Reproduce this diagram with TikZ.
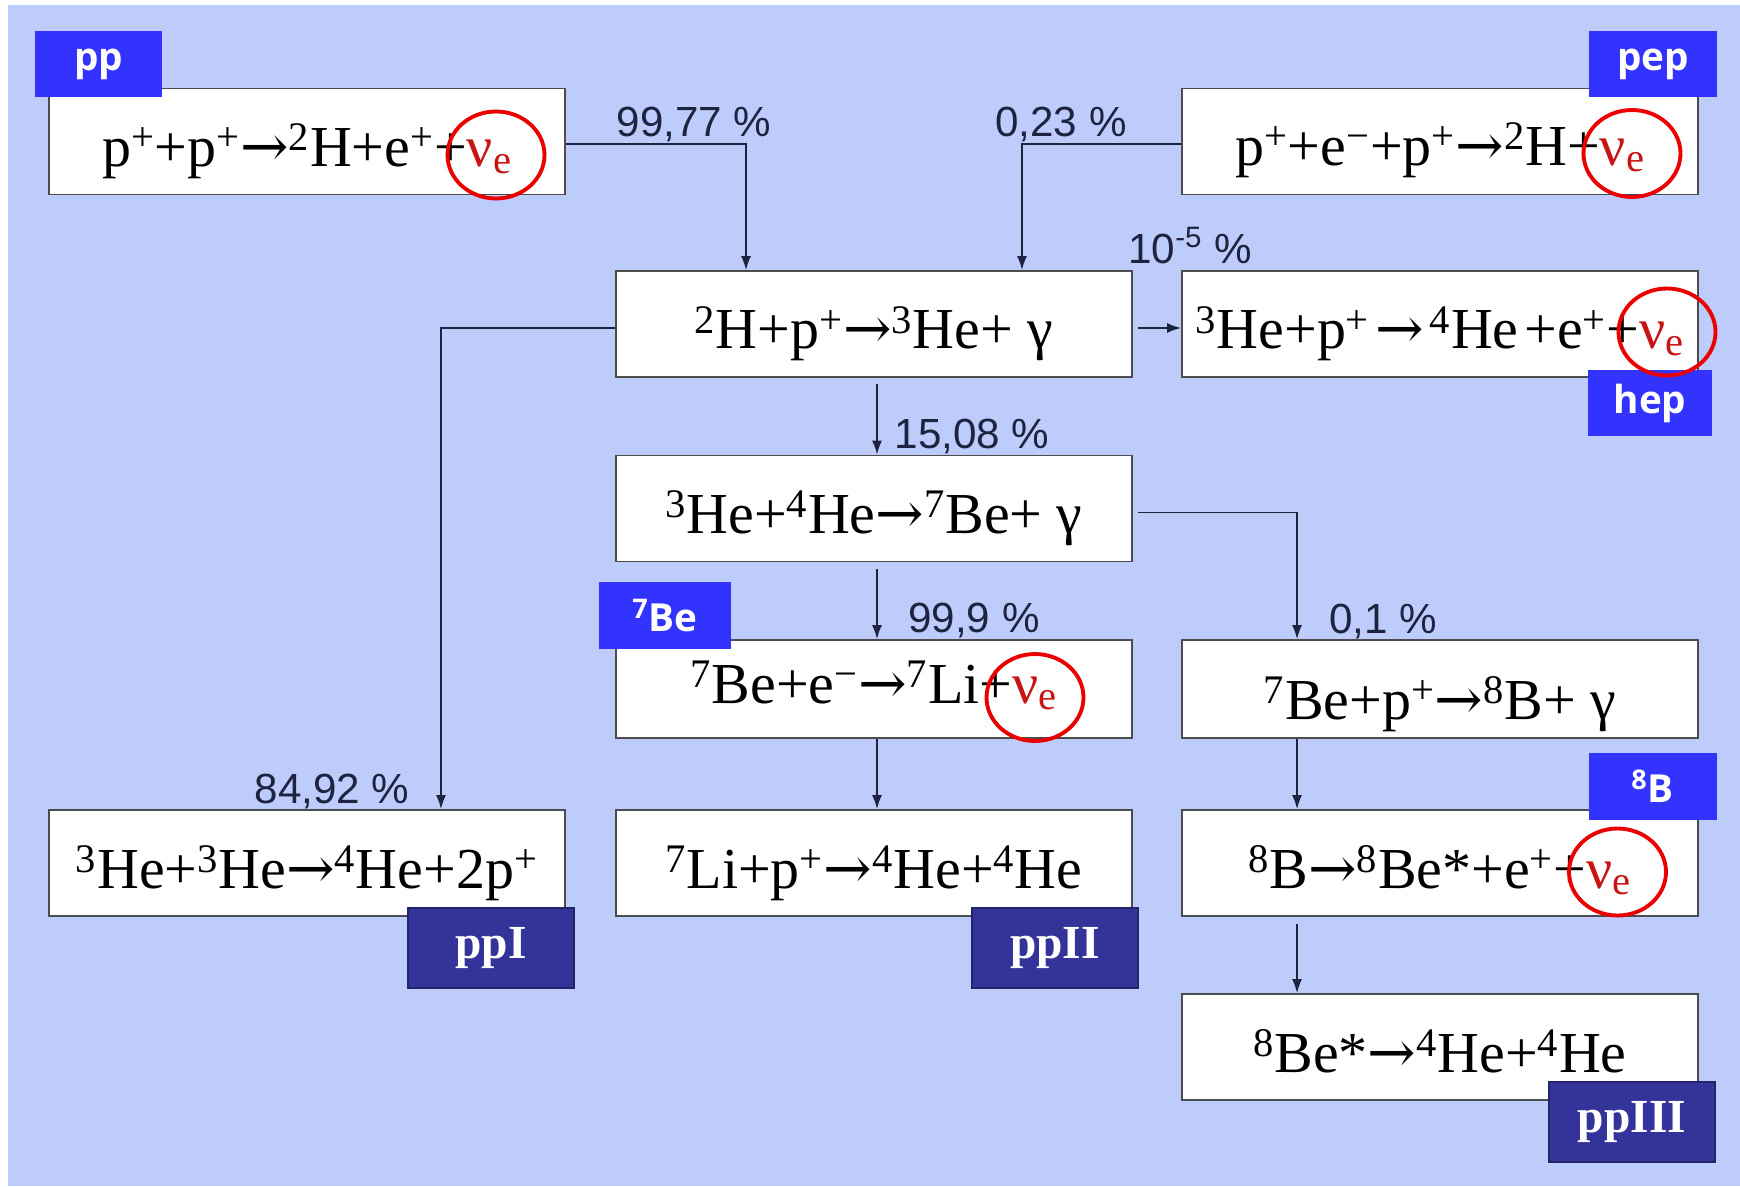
\documentclass[tikz,border=0pt]{standalone}
\usepackage{fontspec}
\setmainfont{Liberation Serif}
\newfontfamily\pctfont{Liberation Sans}
\newfontfamily\tagfont{Open Sans}
\newfontfamily\arrfont{DejaVu Serif}
\usetikzlibrary{shapes.geometric,arrows.meta}

\definecolor{slide}{RGB}{189,204,251}
\definecolor{tagblue}{RGB}{51,51,255}
\definecolor{chainblue}{RGB}{51,51,153}
\definecolor{nured}{RGB}{200,20,20}
\definecolor{ringred}{RGB}{235,0,0}
\definecolor{wire}{RGB}{30,36,64}

\newcommand{\up}[1]{\textsuperscript{#1}}
\newcommand{\nue}{{\color{nured}ν\textsubscript{e}}}
\newcommand{\ra}{{\arrfont →}}

\tikzset{
	reac/.style={draw=black!70, fill=white, line width=1pt, minimum width=10.32cm, minimum height=2.12cm, inner sep=0pt, text height=1.3cm, text depth=0.3cm, font=\fontsize{33}{40}\selectfont},
	taglbl/.style={fill=tagblue, text=white, minimum width=2.56cm, minimum height=1.32cm, inner sep=0pt, font=\tagfont\bfseries\fontsize{22}{26}\selectfont},
	chainlbl/.style={fill=chainblue, draw=chainblue!70!black, line width=1pt, text=white, minimum width=3.32cm, minimum height=1.6cm, inner sep=0pt, font=\bfseries\fontsize{27}{30}\selectfont},
	pct/.style={text=wire, inner sep=0pt, anchor=base, font=\pctfont\fontsize{24}{28}\selectfont},
	ringnu/.style={ellipse, draw=ringred, line width=2.2pt, minimum width=1.94cm, minimum height=1.74cm, inner sep=0pt},
	flowarr/.style={draw=wire, line width=1pt, -{Latex[length=0.28cm, width=0.2cm]}}
}

\begin{document}
\begin{tikzpicture}[x=0.02cm, y=-0.02cm]
\useasboundingbox (0,0) rectangle (1740,1186);
\fill[slide] (8,5) rectangle (1740,1186);

% Reacciones
\node[reac] (ppbox) at (307,141.5) {p\up{+}+p\up{+}\ra\up{2}H+e\up{+}+\nue};
\node[reac, text height=1.25cm] (pepbox) at (1440,141.5) {p\up{+}+e\up{−}+p\up{+}\ra\up{2}H+\nue};
\node[reac] (dbox) at (874,324) {\up{2}H+p\up{+}\ra\up{3}He+ γ};
\node[reac] (hepbox) at (1440,324) {\up{3}He+p\up{+}\hspace{0.1em}\ra\hspace{0.1em}\up{4}He\hspace{0.1em}+e\up{+}+\nue};
\node[reac] (hebox) at (874,508.5) {\up{3}He+\up{4}He\ra\up{7}Be+ γ};
\node[reac, minimum height=1.96cm, text height=0.86cm] (ecbox) at (874,689) {\up{7}Be+e\up{−}\ra\up{7}Li+\nue};
\node[reac, minimum height=1.96cm, text height=1.5cm] (bpbox) at (1440,689) {\up{7}Be+p\up{+}\ra\up{8}B+ γ};
\node[reac] (ppIbox) at (307,863) {\up{3}He+\up{3}He\ra\up{4}He+2p\up{+}};
\node[reac] (libox) at (874,863) {\up{7}Li+p\up{+}\ra\up{4}He+\up{4}He};
\node[reac] (bdbox) at (1440,863) {\up{8}B\ra\up{8}Be*+e\up{+}+\nue};
\node[reac] (bebox) at (1440,1047) {\up{8}Be*\ra\up{4}He+\up{4}He};

% Flechas
\draw[flowarr] ([yshift=-0.05cm]ppbox.east) -| ([xshift=-2.56cm]dbox.north);
\draw[flowarr] ([yshift=-0.05cm]pepbox.west) -| ([xshift=2.96cm]dbox.north);
\draw[flowarr] ([xshift=0.1cm,yshift=-0.08cm]dbox.east) -- ([yshift=-0.08cm]hepbox.west);
\draw[flowarr] ([yshift=-0.08cm]dbox.west) -| ([xshift=2.68cm]ppIbox.north);
\draw[flowarr] ([xshift=0.06cm,yshift=-0.12cm]dbox.south) -- ([xshift=0.06cm]hebox.north);
\draw[flowarr] ([xshift=0.06cm,yshift=-0.14cm]hebox.south) -- ([xshift=0.06cm]ecbox.north);
\draw[flowarr] ([xshift=0.1cm,yshift=-0.08cm]hebox.east) -| ([xshift=-2.86cm]bpbox.north);
\draw[flowarr] ([xshift=0.06cm]ecbox.south) -- ([xshift=0.06cm]libox.north);
\draw[flowarr] ([xshift=-2.86cm]bpbox.south) -- ([xshift=-2.86cm]bdbox.north);
\draw[flowarr] ([xshift=-2.86cm,yshift=-0.14cm]bdbox.south) -- ([xshift=-2.86cm]bebox.north);

% Porcentajes
\node[pct] (p1) at (694,136) {99,77 \%};
\node[pct] (p2) at (1061,136) {0,23 \%};
\node[pct] (p3) at (1190,263) {10\textsuperscript{-5} \%};
\node[pct] (p4) at (972,448) {15,08 \%};
\node[pct] (p5) at (974,632.5) {99,9 \%};
\node[pct] (p6) at (1383,633.5) {0,1 \%};
\node[pct] (p7) at (332,803) {84,92 \%};

% Etiquetas
\node[taglbl] (tpp) at (98.5,64) {pp};
\node[taglbl] (tpep) at (1653,64) {pep};
\node[taglbl, minimum width=2.48cm] (thep) at (1650,403) {hep};
\node[taglbl, minimum width=2.64cm, minimum height=1.34cm] (tbe) at (665,615.5) {\up{7}Be};
\node[taglbl, minimum height=1.34cm] (tb) at (1652.5,786.5) {\up{8}B};
\node[chainlbl] (cI) at (491,948) {ppI};
\node[chainlbl] (cII) at (1055,948) {ppII};
\node[chainlbl] (cIII) at (1632,1122) {ppIII};

% Neutrinos
\foreach \x/\y [count=\i] in {496/155, 1632/153.5, 1667/332, 1035/697.5, 1617.5/872}
	\node[ringnu] (nu\i) at (\x,\y) {};
\end{tikzpicture}
\end{document}
